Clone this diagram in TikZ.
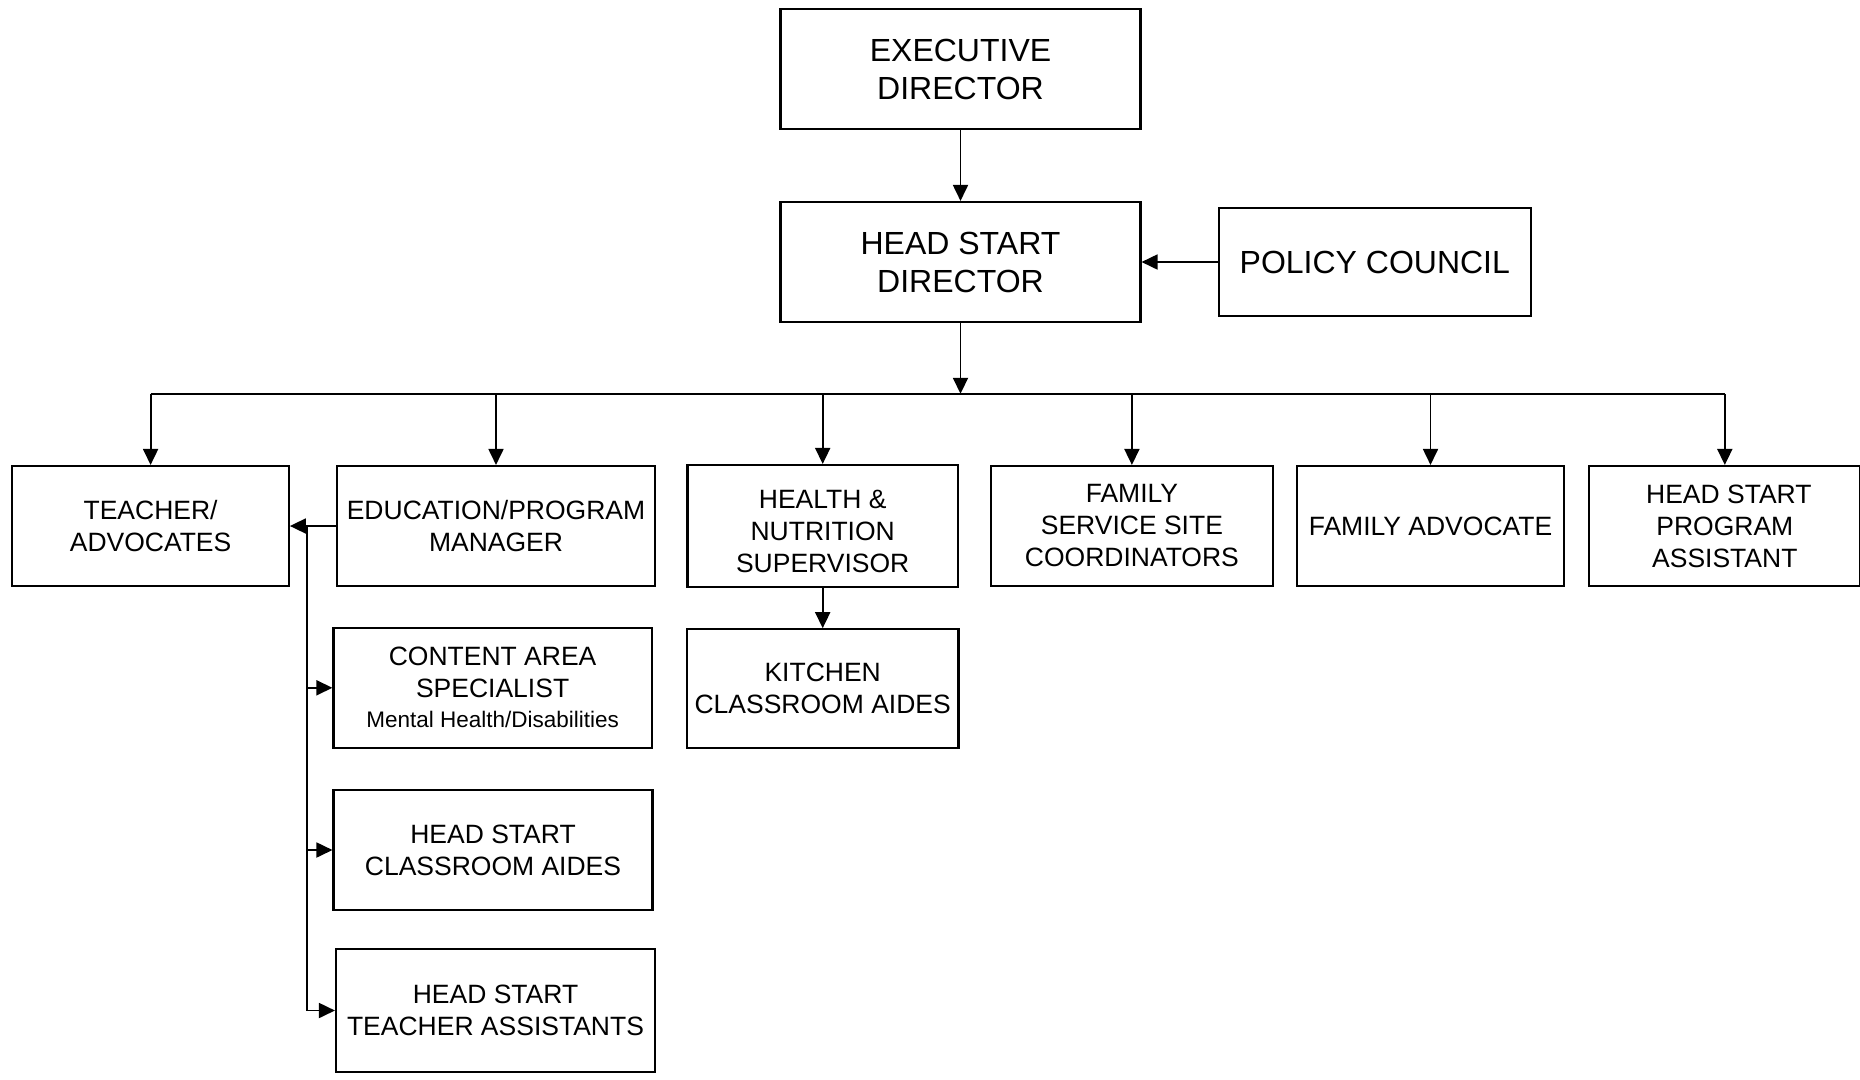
\documentclass[tikz,border=0pt]{standalone}
\usepackage{fontspec}
\setmainfont{Liberation Sans}
\usetikzlibrary{arrows.meta}
\begin{document}
\begin{tikzpicture}[x=1pt,y=-1pt,
  box/.style={draw=black,line width=2.1pt,align=center,inner sep=0pt,
    font=\fontsize{26.5}{32}\selectfont},
  bigbox/.style={box,font=\fontsize{32}{38}\selectfont},
  conn/.style={line width=1.8pt,-{Triangle[length=16pt,width=15pt]}},
  line/.style={line width=1.8pt}]
\useasboundingbox[fill=white] (0,0) rectangle (1860,1079);
% top level
\node[bigbox,minimum width=360pt,minimum height=120pt] (exec) at (960.5,69) {EXECUTIVE\\DIRECTOR};
\node[bigbox,minimum width=360pt,minimum height=120pt] (hsd) at (960.5,262) {HEAD START\\DIRECTOR};
\node[bigbox,minimum width=312pt,minimum height=108pt] (pc) at (1374.8,262) {POLICY COUNCIL};
% row 1
\node[box,minimum width=276.5pt,minimum height=120pt] (teach) at (150.6,526) {TEACHER/\\ADVOCATES};
\node[box,minimum width=318.4pt,minimum height=120pt] (ed) at (496,526) {EDUCATION/PROGRAM\\MANAGER};
\node[box,minimum width=270.5pt,minimum height=122pt] (health) at (822.7,526) {\rule{0pt}{30pt}HEALTH \&\\NUTRITION\\SUPERVISOR};
\node[box,minimum width=281.8pt,minimum height=120pt] (fssc) at (1131.9,526) {FAMILY\\SERVICE SITE\\COORDINATORS};
\node[box,minimum width=267pt,minimum height=120pt] (fa) at (1430.5,526) {FAMILY ADVOCATE};
\node[box,minimum width=271pt,minimum height=120pt] (hspa) at (1724.8,526) {\hspace*{8pt}HEAD START\\PROGRAM\\ASSISTANT};
% lower boxes
\node[box,minimum width=318.3pt,minimum height=120.4pt] (cas) at (492.6,687.8) {CONTENT AREA\\SPECIALIST\\[-2pt]{\fontsize{22.5}{27}\selectfont Mental Health/Disabilities}};
\node[box,minimum width=319pt,minimum height=120pt] (hsca) at (493,850) {HEAD START\\CLASSROOM AIDES};
\node[box,minimum width=319pt,minimum height=123pt] (hsta) at (495.5,1010.5) {HEAD START\\TEACHER ASSISTANTS};
\node[box,minimum width=271.5pt,minimum height=118.7pt] (kit) at (822.7,688.6) {KITCHEN\\CLASSROOM AIDES};
% connectors
\coordinate (busY) at (0,393.8);
\coordinate (v) at (306.7,526);
\draw[conn] (exec.south) -- (hsd.north);
\draw[conn] (pc.west) -- (hsd.east);
\draw[conn] (hsd.south) -- (hsd.south |- busY);
\draw[line] (teach.north |- busY) -- (hspa.north |- busY);
\draw[conn] (teach.north |- busY) -- (teach.north);
\draw[conn] (ed.north |- busY) -- (ed.north);
\draw[conn] (health.north |- busY) -- (health.north);
\draw[conn] (fssc.north |- busY) -- (fssc.north);
\draw[conn] (fa.north |- busY) -- (fa.north);
\draw[conn] (hspa.north |- busY) -- (hspa.north);
\draw[conn] (ed.west) -- (teach.east);
\draw[line] (v) -- (v |- hsta.west);
\draw[conn] (v |- cas.west) -- (cas.west);
\draw[conn] (v |- hsca.west) -- (hsca.west);
\draw[conn] (v |- hsta.west) -- (hsta.west);
\draw[conn] (health.south) -- (kit.north);
\end{tikzpicture}
\end{document}
